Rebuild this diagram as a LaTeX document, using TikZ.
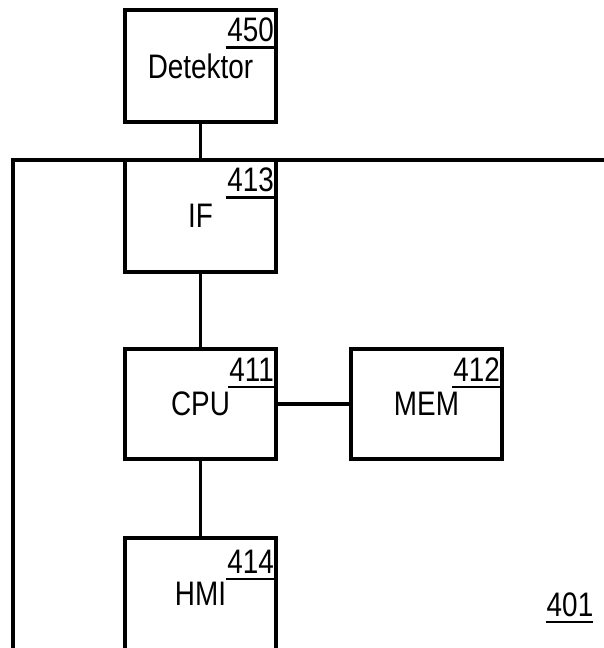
\documentclass[tikz,border=0pt]{standalone}
\usepackage{fontspec}
\usepackage{tikz}
\usetikzlibrary{positioning}
\newfontfamily\diafont[FakeStretch=0.82]{Liberation Sans}
\tikzset{
  unit/.style={rectangle, draw=black, line width=3.5pt,
    minimum width=151pt, minimum height=112pt, outer sep=0pt,
    inner sep=0pt, font=\diafont\fontsize{34}{36}\selectfont},
  refnum/.style={anchor=north east, inner sep=0pt,
    font=\diafont\fontsize{34}{36}\selectfont,
    append after command={([xshift=-1pt,yshift=-5pt]\tikzlastnode.south west)
      edge[line width=2.2pt] ([yshift=-5pt]\tikzlastnode.south east)}},
  link/.style={line width=3.5pt, color=black},
  frame/.style={line width=3.5pt, color=black}
}

\begin{document}
\begin{tikzpicture}[x=1pt, y=-1pt, node distance=38pt and 75pt]
  \clip (0,0) rectangle (604,648);
  % Detector outside the device
  \node[unit] (det) at (200.5,66) {Detektor};
  % Device blocks
  \node[unit, below=38pt of det] (if) {IF};
  \node[unit, below=77pt of if, minimum height=110pt] (cpu) {CPU};
  \node[unit, right=75pt of cpu, minimum height=110pt] (mem) {MEM};
  \node[unit, below=79pt of cpu] (hmi) {HMI};
  % Reference numbers
  \node[refnum] (n450) at ([shift={(-2,8)}]det.north east) {450};
  \node[refnum] (n413) at ([shift={(-2,8)}]if.north east) {413};
  \node[refnum] (n411) at ([shift={(-2,9)}]cpu.north east) {411};
  \node[refnum] (n412) at ([shift={(-2,9)}]mem.north east) {412};
  \node[refnum] (n414) at ([shift={(-2,12)}]hmi.north east) {414};
  \node[refnum, anchor=center] (n401) at (570,605) {401};
  % Device housing
  \coordinate (frameSW) at (13,660);
  \coordinate (frameNE) at (620,160);
  \draw[frame] (frameSW) |- (frameNE);

  \draw[link] (det) -- (if);
  \draw[link] (if) -- (cpu);
  \draw[link] (cpu) -- (mem);
  \draw[link] (cpu) -- (hmi);
\end{tikzpicture}
\end{document}
